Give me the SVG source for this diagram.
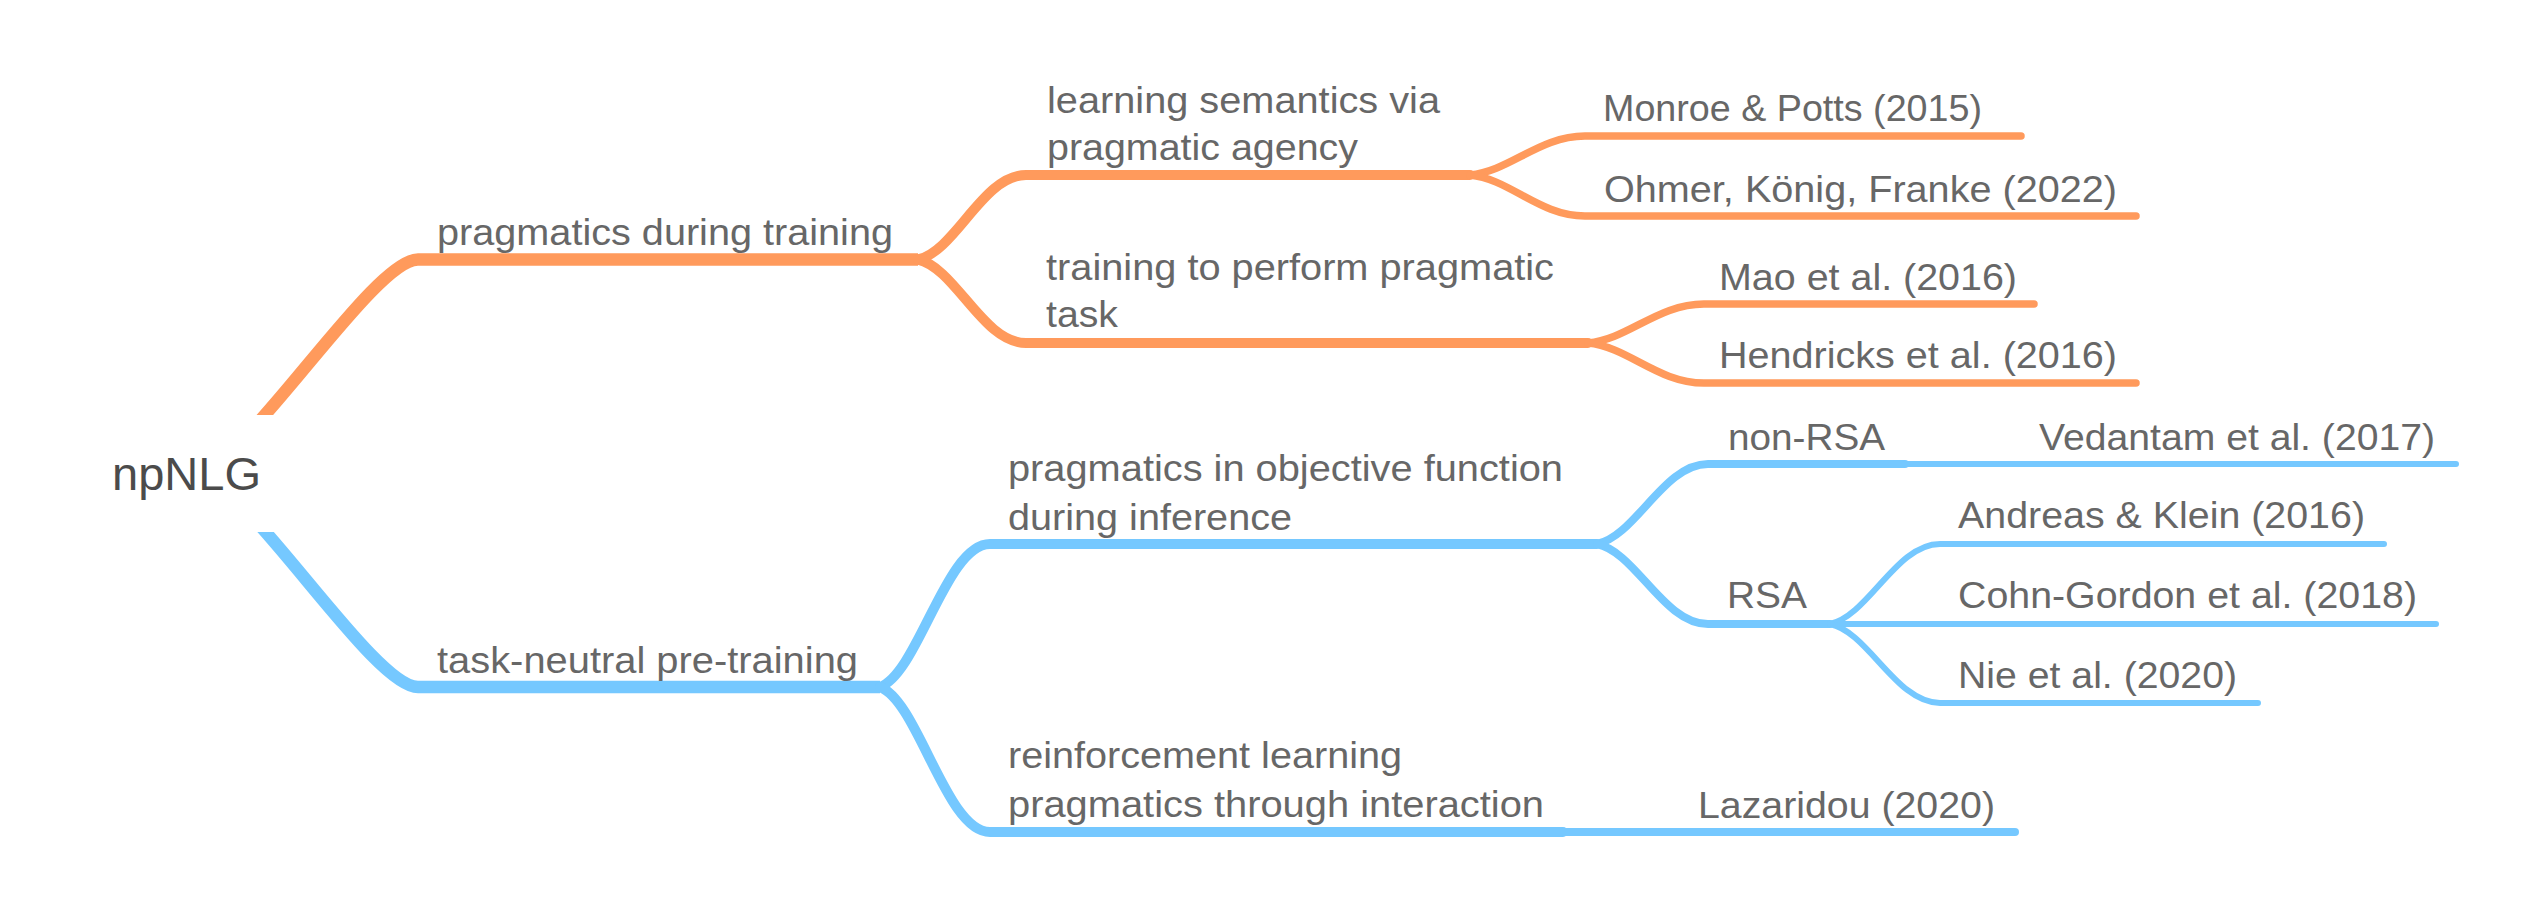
<svg xmlns="http://www.w3.org/2000/svg" width="2528" height="902" viewBox="0 0 2528 902">
<style>
.t{font-family:"Liberation Sans",Arial,Helvetica,sans-serif;font-size:37px;fill:#676767;}
.root{font-family:"Liberation Sans",Arial,Helvetica,sans-serif;font-size:46px;fill:#4b4b4b;}
.o{stroke:#ff9a5c;fill:none;stroke-linecap:round;stroke-linejoin:round;}
.b{stroke:#75c8ff;fill:none;stroke-linecap:round;stroke-linejoin:round;}
.d1{stroke-width:12.5;stroke-linecap:butt;}
.d2{stroke-width:10;}
.d3{stroke-width:8;}
.d3o{stroke-width:7.5;}
.d4{stroke-width:6;}
</style>
<rect width="2528" height="902" fill="#ffffff"/>
<g id="connectors">
  <path class="o d1" d="M200,473 C254.5,451.7 374,259.5 418,259.5 H918"/>
  <path class="b d1" d="M200,473 C254.5,494.4 374,687 418,687 H880"/>
  <path class="o d2" d="M918,259.5 C955.8,251 982.8,175 1026,175 H1470"/>
  <path class="o d2" d="M918,259.5 C955.8,268 982.8,343 1026,343 H1588"/>
  <path class="o d3o" d="M1470,175 C1510.25,171.1 1539,136 1585,136 H2021"/>
  <path class="o d3o" d="M1470,175 C1510.25,179.1 1539,216 1585,216 H2136"/>
  <path class="o d3o" d="M1588,343 C1628.6,339.1 1657.6,304 1704,304 H2034"/>
  <path class="o d3o" d="M1588,343 C1628.6,347 1657.6,383 1704,383 H2136"/>
  <path class="b d2" d="M880,687 C918.5,672.7 946,544 990,544 H1597"/>
  <path class="b d2" d="M880,687 C918.5,701.5 946,832 990,832 H1563"/>
  <path class="b d3" d="M1597,544 C1635.85,536 1663.6,464 1708,464 H1905"/>
  <path class="b d3" d="M1597,544 C1635.85,552 1663.6,624 1708,624 H1830"/>
  <path class="b d3" d="M1563,832 H2015"/>
  <path class="b d4" d="M1905,464 H2456"/>
  <path class="b d4" d="M1830,624 C1868.5,616 1896,544 1940,544 H2384"/>
  <path class="b d4" d="M1830,624 H2436"/>
  <path class="b d4" d="M1830,624 C1868.5,631.9 1896,703 1940,703 H2258"/>
</g>
<g id="root">
  <rect x="90" y="415" width="200" height="117" fill="#ffffff"/>
  <text class="root" x="112" y="490" textLength="149" lengthAdjust="spacingAndGlyphs">npNLG</text>
</g>
<g id="n-pragmatics-during-training"><text class="t" x="437" y="245" textLength="456" lengthAdjust="spacingAndGlyphs">pragmatics during training</text></g>
<g id="n-learning-semantics">
  <text class="t" x="1047" y="113" textLength="393" lengthAdjust="spacingAndGlyphs">learning semantics via</text>
  <text class="t" x="1047" y="160" textLength="311" lengthAdjust="spacingAndGlyphs">pragmatic agency</text>
</g>
<g id="n-training-task">
  <text class="t" x="1046" y="280" textLength="508" lengthAdjust="spacingAndGlyphs">training to perform pragmatic</text>
  <text class="t" x="1046" y="327" textLength="72" lengthAdjust="spacingAndGlyphs">task</text>
</g>
<g id="n-monroe"><text class="t" x="1603" y="121" textLength="379" lengthAdjust="spacingAndGlyphs">Monroe &amp; Potts (2015)</text></g>
<g id="n-ohmer"><text class="t" x="1604" y="202" textLength="513" lengthAdjust="spacingAndGlyphs">Ohmer, König, Franke (2022)</text></g>
<g id="n-mao"><text class="t" x="1719" y="290" textLength="298" lengthAdjust="spacingAndGlyphs">Mao et al. (2016)</text></g>
<g id="n-hendricks"><text class="t" x="1719" y="368" textLength="398" lengthAdjust="spacingAndGlyphs">Hendricks et al. (2016)</text></g>
<g id="n-task-neutral"><text class="t" x="437" y="673" textLength="421" lengthAdjust="spacingAndGlyphs">task-neutral pre-training</text></g>
<g id="n-objective">
  <text class="t" x="1008" y="481" textLength="555" lengthAdjust="spacingAndGlyphs">pragmatics in objective function</text>
  <text class="t" x="1008" y="530" textLength="284" lengthAdjust="spacingAndGlyphs">during inference</text>
</g>
<g id="n-reinforcement">
  <text class="t" x="1008" y="768" textLength="394" lengthAdjust="spacingAndGlyphs">reinforcement learning</text>
  <text class="t" x="1008" y="817" textLength="536" lengthAdjust="spacingAndGlyphs">pragmatics through interaction</text>
</g>
<g id="n-non-rsa"><text class="t" x="1728" y="450" textLength="157" lengthAdjust="spacingAndGlyphs">non-RSA</text></g>
<g id="n-rsa"><text class="t" x="1727" y="608" textLength="80" lengthAdjust="spacingAndGlyphs">RSA</text></g>
<g id="n-vedantam"><text class="t" x="2039" y="450" textLength="396" lengthAdjust="spacingAndGlyphs">Vedantam et al. (2017)</text></g>
<g id="n-andreas"><text class="t" x="1958" y="528" textLength="407" lengthAdjust="spacingAndGlyphs">Andreas &amp; Klein (2016)</text></g>
<g id="n-cohn"><text class="t" x="1958" y="608" textLength="459" lengthAdjust="spacingAndGlyphs">Cohn-Gordon et al. (2018)</text></g>
<g id="n-nie"><text class="t" x="1958" y="688" textLength="279" lengthAdjust="spacingAndGlyphs">Nie et al. (2020)</text></g>
<g id="n-lazaridou"><text class="t" x="1698" y="818" textLength="297" lengthAdjust="spacingAndGlyphs">Lazaridou (2020)</text></g>
</svg>
